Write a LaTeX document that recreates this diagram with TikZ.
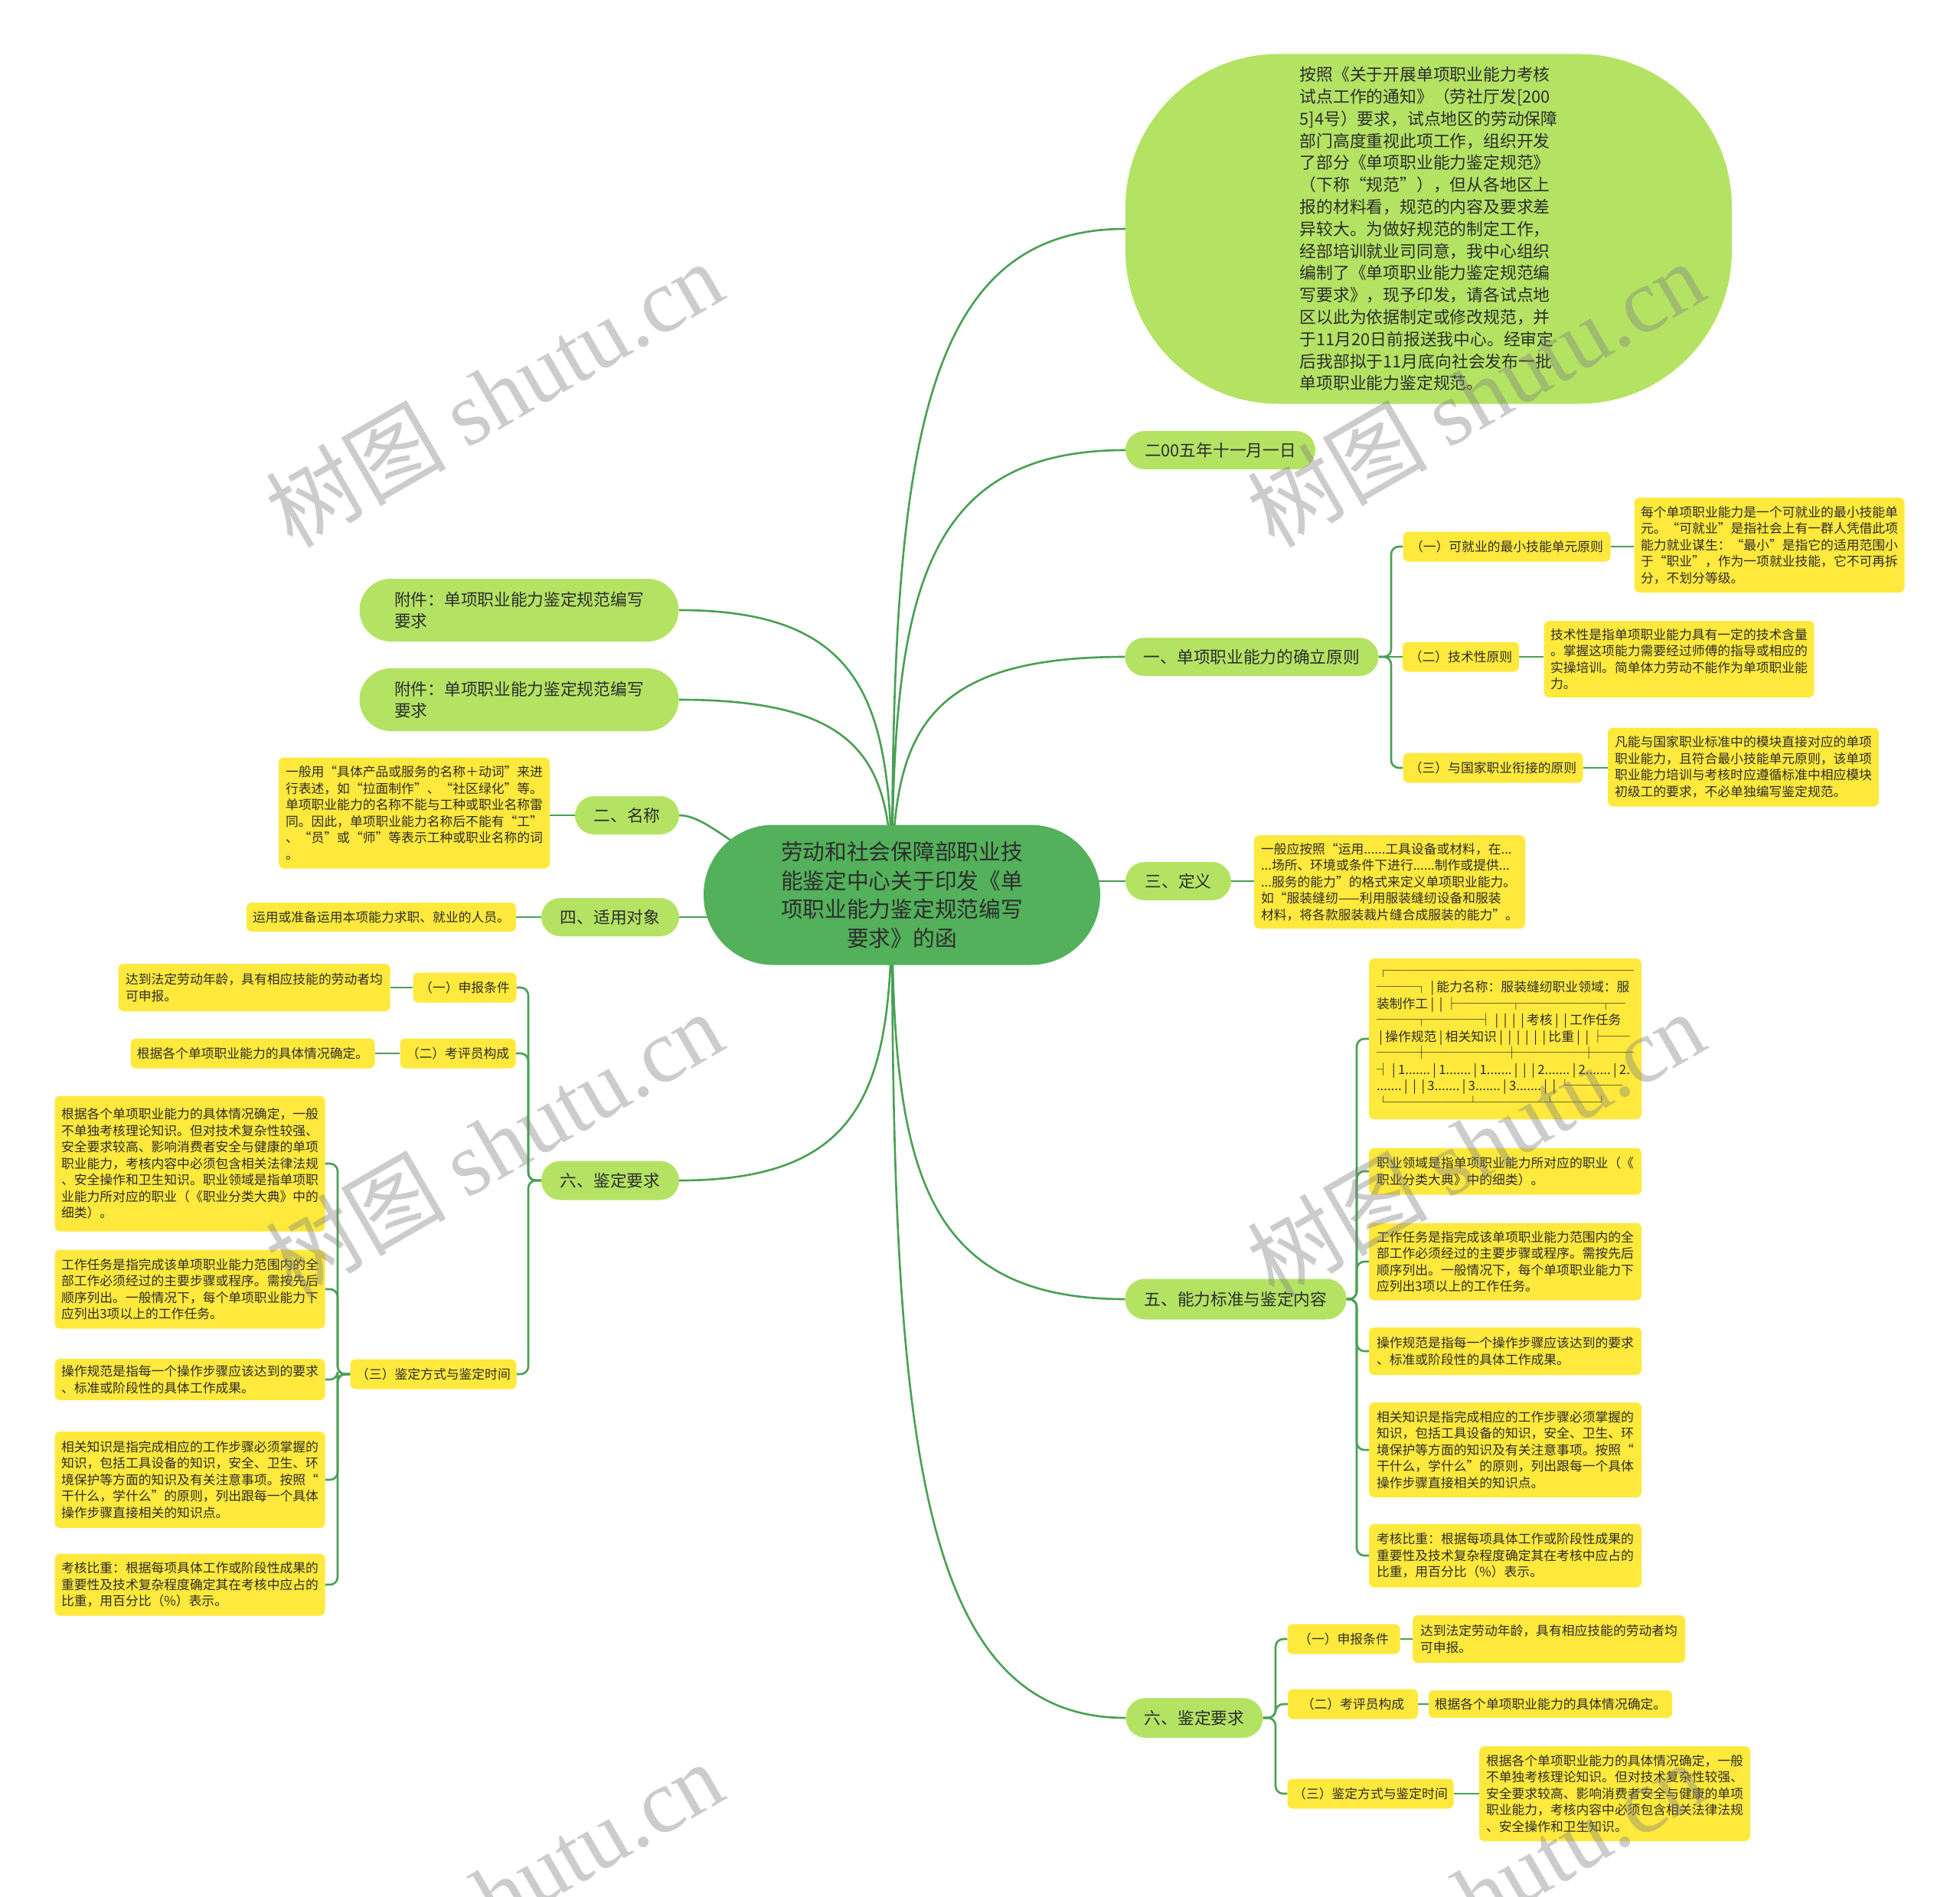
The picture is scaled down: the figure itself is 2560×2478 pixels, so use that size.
\documentclass[tikz,border=0pt]{standalone}
\usepackage{fontspec}
\setmainfont{Noto Sans CJK SC}
\newfontfamily\wmserif{Liberation Serif}
\newcommand{\tbar}{\hspace{0.2em}|\hspace{0.2em}}
\definecolor{rootg}{RGB}{83,176,91}
\definecolor{lg}{RGB}{180,227,100}
\definecolor{yl}{RGB}{254,233,60}
\definecolor{cn}{RGB}{72,160,84}
\definecolor{tx}{RGB}{45,45,45}
\pgfdeclarelayer{bg}
\pgfdeclarelayer{fg}
\pgfsetlayers{bg,main,fg}
\tikzset{
  conn/.style={draw=cn, line width=2.6pt},
  rootnode/.style={fill=rootg, rounded corners=91pt, minimum width=518pt, minimum height=183pt, align=center, text=tx, font=\fontsize{28.7}{37.6}\selectfont, inner sep=0pt},
  bubble/.style={fill=lg, rounded corners=200pt, minimum width=792pt, minimum height=457pt, align=left, text=tx, font=\fontsize{21.8}{28.8}\selectfont, inner sep=0pt},
  lone/.style={fill=lg, rounded corners=25pt, minimum height=50pt, text=tx, font=\fontsize{21.7}{28}\selectfont, inner sep=0pt, align=left},
  ltwo/.style={fill=yl, rounded corners=7pt, minimum height=39pt, text=tx, font=\fontsize{16.8}{21.5}\selectfont, inner sep=0pt},
  leaf/.style={fill=yl, rounded corners=7pt, text=tx, font=\fontsize{16.8}{21.5}\selectfont, inner xsep=8pt, inner ysep=6pt, align=left},
  wm/.style={text=black!50, text opacity=0.4, rotate=30, font=\fontsize{118}{118}\selectfont, inner sep=0pt}
}
\begin{document}
\begin{tikzpicture}[x=1pt,y=-1pt]
\useasboundingbox (0,0) rectangle (2560,2478);
\begin{pgfonlayer}{bg}
\fill[white] (0,0) rectangle (2560,2478);
\end{pgfonlayer}

% ---------- root ----------
\node[rootnode] (root) at (1178,1169) {劳动和社会保障部职业技\\能鉴定中心关于印发《单\\项职业能力鉴定规范编写\\要求》的函};
\coordinate (rc) at (1165,1169);

% ---------- right level 1 ----------
\node[bubble] (bub) at (1866,299) {按照《关于开展单项职业能力考核\\试点工作的通知》（劳社厅发[200\\5]4号）要求，试点地区的劳动保障\\部门高度重视此项工作，组织开发\\了部分《单项职业能力鉴定规范》\\（下称“规范”），但从各地区上\\报的材料看，规范的内容及要求差\\异较大。为做好规范的制定工作，\\经部培训就业司同意，我中心组织\\编制了《单项职业能力鉴定规范编\\写要求》，现予印发，请各试点地\\区以此为依据制定或修改规范，并\\于11月20日前报送我中心。经审定\\后我部拟于11月底向社会发布一批\\单项职业能力鉴定规范。};
\node[lone, minimum width=248pt] (n0) at (1594,588) {二00五年十一月一日};
\node[lone, minimum width=331pt] (n1) at (1635,858) {一、单项职业能力的确立原则};
\node[lone, minimum width=138pt] (n3) at (1539,1151) {三、定义};
\node[lone, minimum width=289pt, minimum height=53pt, rounded corners=26pt] (n5) at (1614,1697) {五、能力标准与鉴定内容};
\node[lone, minimum width=179pt, minimum height=52pt, rounded corners=26pt] (n6r) at (1560,2244) {六、鉴定要求};

% ---------- left level 1 ----------
\node[lone, minimum width=417pt, minimum height=82pt, rounded corners=41pt] (a1) at (678,797) {附件：单项职业能力鉴定规范编写\\要求};
\node[lone, minimum width=417pt, minimum height=82pt, rounded corners=41pt] (a2) at (678,914) {附件：单项职业能力鉴定规范编写\\要求};
\node[lone, minimum width=136pt] (n2) at (819,1065) {二、名称};
\node[lone, minimum width=180pt] (n4) at (797,1198) {四、适用对象};
\node[lone, minimum width=180pt, minimum height=51pt] (n6l) at (797,1542) {六、鉴定要求};

% ---------- right: principles ----------
\node[ltwo, minimum width=271pt] (c1a) at (1968,714) {（一）可就业的最小技能单元原则};
\node[ltwo, minimum width=152pt] (c1b) at (1908,858) {（二）技术性原则};
\node[ltwo, minimum width=235pt] (c1c) at (1950,1003) {（三）与国家职业衔接的原则};
\node[leaf, minimum width=353pt, minimum height=124pt] (d1a) at (2311,712) {每个单项职业能力是一个可就业的最小技能单\\元。“可就业”是指社会上有一群人凭借此项\\能力就业谋生：“最小”是指它的适用范围小\\于“职业”，作为一项就业技能，它不可再拆\\分，不划分等级。};
\node[leaf, minimum width=353pt, minimum height=100pt] (d1b) at (2193,861) {技术性是指单项职业能力具有一定的技术含量\\。掌握这项能力需要经过师傅的指导或相应的\\实操培训。简单体力劳动不能作为单项职业能\\力。};
\node[leaf, minimum width=354pt, minimum height=103pt] (d1c) at (2277,1002) {凡能与国家职业标准中的模块直接对应的单项\\职业能力，且符合最小技能单元原则，该单项\\职业能力培训与考核时应遵循标准中相应模块\\初级工的要求，不必单独编写鉴定规范。};

% ---------- right: definition ----------
\node[leaf, minimum width=354pt, minimum height=122pt] (d3) at (1815,1152) {一般应按照“运用......工具设备或材料，在...\\...场所、环境或条件下进行......制作或提供...\\...服务的能力”的格式来定义单项职业能力。\\如“服装缝纫——利用服装缝纫设备和服装\\材料，将各款服装裁片缝合成服装的能力”。};

% ---------- right: standards ----------
\node[leaf, minimum width=356pt, minimum height=210pt] (t5) at (1966,1357) {┌───────────────────\\───┐\tbar 能力名称：服装缝纫职业领域：服\\装制作工\tbar\tbar ├────┬──────┬─\\───┬────┤\tbar\tbar\tbar\tbar 考核\tbar\tbar 工作任务\\\tbar 操作规范\tbar 相关知识\tbar\tbar\tbar\tbar\tbar\tbar 比重\tbar\tbar ├──\\───┼──────┼─────┼───\\┤\tbar 1.......\tbar 1.......\tbar 1.......\tbar\tbar\tbar 2.......\tbar 2.......\tbar 2.\\.......\tbar\tbar\tbar 3.......\tbar 3.......\tbar 3.......\tbar\tbar └────\\└──────┴─────┴───┘};
\node[leaf, minimum width=356pt, minimum height=61pt] (e52) at (1966,1530) {职业领域是指单项职业能力所对应的职业（《\\职业分类大典》中的细类）。};
\node[leaf, minimum width=356pt, minimum height=101pt] (e53) at (1966,1648) {工作任务是指完成该单项职业能力范围内的全\\部工作必须经过的主要步骤或程序。需按先后\\顺序列出。一般情况下，每个单项职业能力下\\应列出3项以上的工作任务。};
\node[leaf, minimum width=356pt, minimum height=62pt] (e54) at (1966,1765) {操作规范是指每一个操作步骤应该达到的要求\\、标准或阶段性的具体工作成果。};
\node[leaf, minimum width=356pt, minimum height=124pt] (e55) at (1966,1894) {相关知识是指完成相应的工作步骤必须掌握的\\知识，包括工具设备的知识，安全、卫生、环\\境保护等方面的知识及有关注意事项。按照“\\干什么，学什么”的原则，列出跟每一个具体\\操作步骤直接相关的知识点。};
\node[leaf, minimum width=356pt, minimum height=83pt] (e56) at (1966,2032) {考核比重：根据每项具体工作或阶段性成果的\\重要性及技术复杂程度确定其在考核中应占的\\比重，用百分比（\%）表示。};

% ---------- right: requirements ----------
\node[ltwo, minimum width=147pt] (r6a) at (1755,2141) {（一）申报条件};
\node[ltwo, minimum width=170pt] (r6b) at (1767,2226) {（二）考评员构成};
\node[ltwo, minimum width=217pt] (r6c) at (1790,2343) {（三）鉴定方式与鉴定时间};
\node[leaf, minimum width=356pt, minimum height=62pt] (r6al) at (2023,2141) {达到法定劳动年龄，具有相应技能的劳动者均\\可申报。};
\node[leaf, minimum width=317pt, minimum height=36pt] (r6bl) at (2025,2226) {根据各个单项职业能力的具体情况确定。};
\node[leaf, minimum width=354pt, minimum height=124pt] (r6cl) at (2109,2343) {根据各个单项职业能力的具体情况确定，一般\\不单独考核理论知识。但对技术复杂性较强、\\安全要求较高、影响消费者安全与健康的单项\\职业能力，考核内容中必须包含相关法律法规\\、安全操作和卫生知识。};

% ---------- left: name / target ----------
\node[leaf, minimum width=354pt, minimum height=145pt] (n2l) at (541,1062) {一般用“具体产品或服务的名称＋动词”来进\\行表述，如“拉面制作”、“社区绿化”等。\\单项职业能力的名称不能与工种或职业名称雷\\同。因此，单项职业能力名称后不能有“工”\\、“员”或“师”等表示工种或职业名称的词\\。};
\node[leaf, minimum width=352pt, minimum height=38pt] (n4l) at (498,1198) {运用或准备运用本项能力求职、就业的人员。};

% ---------- left: requirements ----------
\node[ltwo, minimum width=135pt] (l6a) at (607,1290) {（一）申报条件};
\node[ltwo, minimum width=151pt] (l6b) at (598,1376) {（二）考评员构成};
\node[ltwo, minimum width=217pt] (l6c) at (566,1795) {（三）鉴定方式与鉴定时间};
\node[leaf, minimum width=355pt, minimum height=62pt] (l6al) at (332,1290) {达到法定劳动年龄，具有相应技能的劳动者均\\可申报。};
\node[leaf, minimum width=319pt, minimum height=39pt] (l6bl) at (330,1376) {根据各个单项职业能力的具体情况确定。};
\node[leaf, minimum width=353pt, minimum height=177pt] (m1) at (248,1520) {根据各个单项职业能力的具体情况确定，一般\\不单独考核理论知识。但对技术复杂性较强、\\安全要求较高、影响消费者安全与健康的单项\\职业能力，考核内容中必须包含相关法律法规\\、安全操作和卫生知识。职业领域是指单项职\\业能力所对应的职业（《职业分类大典》中的\\细类）。};
\node[leaf, minimum width=353pt, minimum height=103pt] (m2) at (248,1684) {工作任务是指完成该单项职业能力范围内的全\\部工作必须经过的主要步骤或程序。需按先后\\顺序列出。一般情况下，每个单项职业能力下\\应列出3项以上的工作任务。};
\node[leaf, minimum width=353pt, minimum height=54pt] (m3) at (248,1802) {操作规范是指每一个操作步骤应该达到的要求\\、标准或阶段性的具体工作成果。};
\node[leaf, minimum width=353pt, minimum height=126pt] (m4) at (248,1933) {相关知识是指完成相应的工作步骤必须掌握的\\知识，包括工具设备的知识，安全、卫生、环\\境保护等方面的知识及有关注意事项。按照“\\干什么，学什么”的原则，列出跟每一个具体\\操作步骤直接相关的知识点。};
\node[leaf, minimum width=353pt, minimum height=81pt] (m5) at (248,2070) {考核比重：根据每项具体工作或阶段性成果的\\重要性及技术复杂程度确定其在考核中应占的\\比重，用百分比（\%）表示。};

% ---------- spines ----------
\coordinate (s1) at (1817,858);
\coordinate (s5) at (1772,1697);
\coordinate (s6r) at (1666,2244);
\coordinate (s6l) at (690,1542);
\coordinate (s6c) at (441,1795);

% ---------- connectors ----------
\begin{pgfonlayer}{bg}
% root to level 1, right
\draw[conn] (rc) .. controls (1165,604) and (1196,299) .. (bub.west);
\draw[conn] (rc) .. controls (1165,791) and (1196,588) .. (n0.west);
\draw[conn] (rc) .. controls (1165,967) and (1196,858) .. (n1.west);
\draw[conn] (rc |- n3.west) -- (n3.west);
\draw[conn] (rc) .. controls (1165,1512) and (1196,1697) .. (n5.west);
\draw[conn] (rc) .. controls (1165,1868) and (1196,2244) .. (n6r.west);
% root to level 1, left
\draw[conn] (rc) .. controls (1165,927) and (1137,797) .. (a1.east);
\draw[conn] (rc) .. controls (1165,1003) and (1137,914) .. (a2.east);
\draw[conn] (rc) .. controls (1000,1169) and (940,1065) .. (n2.east);
\draw[conn] (rc |- n4.east) -- (n4.east);
\draw[conn] (rc) .. controls (1165,1411) and (1137,1542) .. (n6l.east);
% principles
\draw[conn, rounded corners=10pt] (n1.east) -- (s1) |- (c1a.west);
\draw[conn] (n1.east) -- (c1b.west);
\draw[conn, rounded corners=10pt] (n1.east) -- (s1) |- (c1c.west);
\draw[conn] (c1a.east) -- (c1a.east -| d1a.west);
\draw[conn] (c1b.east) -- (c1b.east -| d1b.west);
\draw[conn] (c1c.east) -- (c1c.east -| d1c.west);
% definition
\draw[conn] (n3.east) -- (n3.east -| d3.west);
% standards
\foreach \c in {t5,e52,e53,e54,e55,e56}
  \draw[conn, rounded corners=10pt] (n5.east) -- (s5) |- (\c.west);
% right requirements
\foreach \c in {r6a,r6b,r6c}
  \draw[conn, rounded corners=10pt] (n6r.east) -- (s6r) |- (\c.west);
\draw[conn] (r6a.east) -- (r6a.east -| r6al.west);
\draw[conn] (r6b.east) -- (r6b.east -| r6bl.west);
\draw[conn] (r6c.east) -- (r6c.east -| r6cl.west);
% left name / target
\draw[conn] (n2.west) -- (n2.west -| n2l.east);
\draw[conn] (n4.west) -- (n4.west -| n4l.east);
% left requirements
\foreach \c in {l6a,l6b,l6c}
  \draw[conn, rounded corners=10pt] (n6l.west) -- (s6l) |- (\c.east);
\draw[conn] (l6a.west) -- (l6a.west -| l6al.east);
\draw[conn] (l6b.west) -- (l6b.west -| l6bl.east);
\foreach \c in {m1,m2,m3,m4,m5}
  \draw[conn, rounded corners=10pt] (l6c.west) -- (s6c) |- (\c.east);
\end{pgfonlayer}

% ---------- watermarks ----------
\begin{pgfonlayer}{fg}
\begin{scope}
\clip (0,0) rectangle (2560,2478);
\node[wm] (w1) at (645,514) {树图 {\wmserif shutu.cn}};
\node[wm] (w2) at (1927,514) {树图 {\wmserif shutu.cn}};
\node[wm] (w3) at (645,1494) {树图 {\wmserif shutu.cn}};
\node[wm] (w4) at (1927,1494) {树图 {\wmserif shutu.cn}};
\node[wm] (w5) at (645,2474) {树图 {\wmserif shutu.cn}};
\node[wm] (w6) at (1927,2474) {树图 {\wmserif shutu.cn}};
\end{scope}
\end{pgfonlayer}
\end{tikzpicture}
\end{document}
